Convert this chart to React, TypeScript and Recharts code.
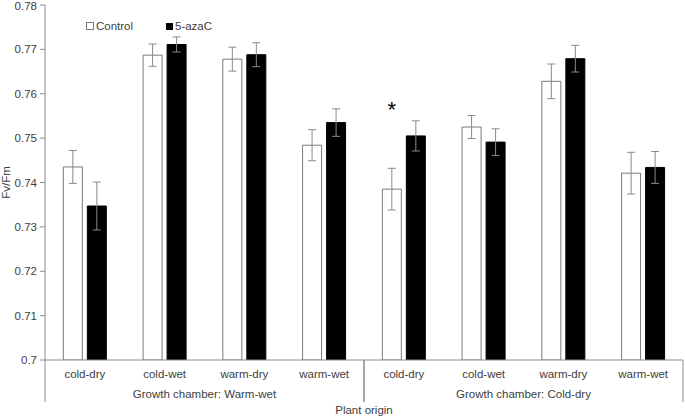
import React from "react";
import { BarChart, Bar, XAxis, YAxis, ErrorBar, LabelList } from "recharts";

// Plant origin (x categories) and growth chamber (second axis level)
const origins = ["cold-dry", "cold-wet", "warm-dry", "warm-wet", "cold-dry", "cold-wet", "warm-dry", "warm-wet"];
const chambers = [
    "Growth chamber: Warm-wet",
    "Growth chamber: Warm-wet",
    "Growth chamber: Warm-wet",
    "Growth chamber: Warm-wet",
    "Growth chamber: Cold-dry",
    "Growth chamber: Cold-dry",
    "Growth chamber: Cold-dry",
    "Growth chamber: Cold-dry",
];

const controlMeans = [0.7435, 0.7687, 0.7678, 0.7484, 0.7385, 0.7525, 0.7628, 0.7421];
const controlErr = [0.0037, 0.0025, 0.0027, 0.0035, 0.0047, 0.0026, 0.0039, 0.0047];
const azaMeans = [0.7347, 0.7711, 0.7688, 0.7535, 0.7505, 0.7491, 0.7679, 0.7434];
const azaErr = [0.0054, 0.0017, 0.0027, 0.0031, 0.0034, 0.003, 0.003, 0.0036];
const significant = [false, false, false, false, true, false, false, false];

const yTicks = [0.7, 0.71, 0.72, 0.73, 0.74, 0.75, 0.76, 0.77, 0.78];

const data = origins.map((origin, i) => ({
    origin,
    chamber: chambers[i],
    control: controlMeans[i],
    controlErr: controlErr[i],
    aza: azaMeans[i],
    azaErr: azaErr[i],
    sig: significant[i] ? "*" : "",
}));

const FONT = "'Liberation Sans', Arial, sans-serif";
const TEXT = "#404040";
const AXIS = "#8c8c8c";

function OriginTick({ x, y, payload }: any) {
    return (
        <text x={x} y={y + 18} textAnchor="middle" fontSize={11.5} fontFamily={FONT} fill={TEXT}>
            {payload.value}
        </text>
    );
}

function ChamberTick({ x, y, payload }: any) {
    const half = payload.offset || 0;
    return (
        <g>
            <line x1={x - half} x2={x - half} y1={y - 25} y2={y + 17} stroke={AXIS} />
            <line x1={x + half} x2={x + half} y1={y - 25} y2={y + 17} stroke={AXIS} />
            <text x={x} y={y + 13} textAnchor="middle" fontSize={11.5} fontFamily={FONT} fill={TEXT}>
                {payload.value}
            </text>
        </g>
    );
}

function Star({ x, y, width, value }: any) {
    if (!value) return null;
    return (
        <text x={x + width / 2} y={y - 72} textAnchor="middle" fontSize={22} fontFamily={FONT} fill="#000">
            {value}
        </text>
    );
}

export default function App() {
    return (
        <div style={{ position: "absolute", left: 0, top: 0, width: 685, height: 418, background: "#fff" }}>
            <BarChart
                width={685}
                height={418}
                data={data}
                margin={{ top: 5, right: 2, left: 0, bottom: 0 }}
                barCategoryGap="23%"
                barGap={5}
            >
                <XAxis
                    dataKey="origin"
                    height={25}
                    tick={<OriginTick />}
                    tickLine={false}
                    tickSize={0}
                    tickMargin={0}
                    axisLine={{ stroke: AXIS }}
                    interval={0}
                />
                <XAxis
                    xAxisId="chamber"
                    dataKey="chamber"
                    allowDuplicatedCategory={false}
                    height={33}
                    tick={<ChamberTick />}
                    tickLine={false}
                    tickSize={0}
                    tickMargin={0}
                    axisLine={false}
                    interval={0}
                    label={{
                        value: "Plant origin",
                        position: "insideBottom",
                        offset: 4,
                        fontSize: 11.5,
                        fontFamily: FONT,
                        fill: TEXT,
                    }}
                />
                <YAxis
                    width={45}
                    domain={[0.7, 0.78]}
                    ticks={yTicks}
                    allowDataOverflow
                    tickFormatter={(v: number) => String(Number(v.toFixed(2)))}
                    tick={{ fontSize: 11.5, fontFamily: FONT, fill: TEXT }}
                    tickSize={5}
                    tickMargin={3}
                    tickLine={{ stroke: AXIS }}
                    axisLine={{ stroke: AXIS }}
                    label={{
                        value: "Fv/Fm",
                        angle: -90,
                        position: "insideLeft",
                        offset: 6,
                        fontSize: 11.5,
                        fontFamily: FONT,
                        fill: TEXT,
                        style: { textAnchor: "middle" },
                    }}
                />
                <Bar dataKey="control" fill="#fff" stroke="#7a7a7a" strokeWidth={1} isAnimationActive={false}>
                    <ErrorBar dataKey="controlErr" width={4} stroke="#8a8a8a" strokeWidth={1} />
                    <LabelList dataKey="sig" content={<Star />} />
                </Bar>
                <Bar dataKey="aza" fill="#000" stroke="#000" strokeWidth={1} isAnimationActive={false}>
                    <ErrorBar dataKey="azaErr" width={4} stroke="#8a8a8a" strokeWidth={1} />
                </Bar>
            </BarChart>
            <div
                style={{
                    position: "absolute",
                    left: 86,
                    top: 20,
                    display: "flex",
                    fontFamily: FONT,
                    fontSize: 11.5,
                    color: TEXT,
                    alignItems: "center",
                }}
            >
                <span style={{ display: "inline-block", width: 6, height: 6, border: "1px solid #7a7a7a", background: "#fff", marginRight: 2 }} />
                <span style={{ width: 70 }}>Control</span>
                <span style={{ display: "inline-block", width: 7, height: 7, background: "#000", marginRight: 2 }} />
                <span>5-azaC</span>
            </div>
        </div>
    );
}
